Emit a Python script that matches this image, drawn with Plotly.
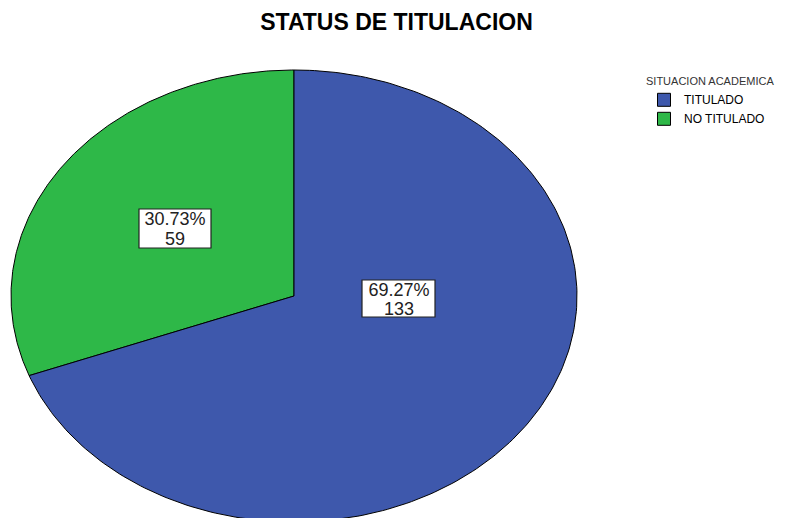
import numpy as np
import plotly.graph_objects as go

# ---- data ----
categories = ["TITULADO", "NO TITULADO"]
counts = [133, 59]
colors = ["#3E58AC", "#2EB848"]
legend_title = "SITUACION ACADEMICA"
chart_title = "STATUS DE TITULACION"

# ---- layout geometry (window pixels) ----
WIN_W, WIN_H = 789, 518
OFF = 8                     # default page body margin
W, H = WIN_W - OFF, WIN_H - OFF
CX, CY = 294, 296           # ellipse centre
RX, RY = 283, 226           # ellipse radii


def dx(px):  # window px -> data x (unit ellipse)
    return (px - CX) / RX


def dy(py):  # window px -> data y (unit ellipse)
    return (CY - py) / RY


def paper_x(px):
    return (px - OFF) / W


def paper_y(py):
    return 1 - (py - OFF) / H


total = sum(counts)
pct = [c / total * 100 for c in counts]

xr = [dx(OFF), dx(WIN_W)]
yr = [dy(WIN_H), dy(OFF)]

fig = go.Figure()

# slices drawn from 12 o'clock, counter-clockwise: NO TITULADO first
order = [1, 0]
start = 0.0
for i in order:
    frac = counts[i] / total
    a = np.linspace(start, start + frac * 2 * np.pi, 240)
    xs = np.concatenate([[0], -np.sin(a), [0]])
    ys = np.concatenate([[0], np.cos(a), [0]])
    fig.add_trace(go.Scatter(
        x=xs, y=ys, fill="toself", fillcolor=colors[i], mode="lines",
        line=dict(color="black", width=1), showlegend=False, hoverinfo="skip"))
    start += frac * 2 * np.pi

# legend entries
for i, cat in enumerate(categories):
    fig.add_trace(go.Scatter(
        x=[None], y=[None], mode="markers", name=cat,
        marker=dict(symbol="square", size=13, color=colors[i],
                    line=dict(color="black", width=1))))

# slice label boxes (window px: x0, x1, y0, y1, line1 y, line2 y)
label_boxes = {
    0: (362, 435, 280, 317, 289, 308),
    1: (139, 211, 209, 248, 218.5, 238),
}
for i in range(len(categories)):
    x0, x1, y0, y1, l1, l2 = label_boxes[i]
    fig.add_shape(type="rect", xref="x", yref="y",
                  x0=dx(x0), x1=dx(x1), y0=dy(y0), y1=dy(y1),
                  fillcolor="white", line=dict(color="#222222", width=1.2),
                  layer="above")
    xc = dx((x0 + x1) / 2)
    for txt, ly in ((f"{pct[i]:.2f}%", l1), (f"{counts[i]}", l2)):
        fig.add_annotation(
            x=xc, y=dy(ly), xref="x", yref="y", showarrow=False,
            text=txt, xanchor="center", yanchor="middle",
            height=17, width=70, borderpad=0,
            font=dict(family="Liberation Sans, Arial", size=18, color="#222222"))

fig.update_layout(
    width=W, height=H, autosize=False,
    margin=dict(l=0, r=0, t=0, b=0),
    paper_bgcolor="white", plot_bgcolor="white",
    xaxis=dict(range=xr, visible=False, fixedrange=True),
    yaxis=dict(range=yr, visible=False, fixedrange=True),
    title=dict(text=f"<b>{chart_title}</b>", x=paper_x(396.5), xanchor="center",
               y=paper_y(22), yanchor="middle", yref="container",
               font=dict(family="Liberation Sans, Arial", size=23, color="black")),
    legend=dict(
        x=paper_x(644), y=paper_y(71), xanchor="left", yanchor="top",
        bgcolor="rgba(0,0,0,0)",
        title=dict(text=legend_title,
                   font=dict(family="Liberation Sans, Arial", size=11, color="#333333")),
        font=dict(family="Liberation Sans, Arial", size=12, color="black"),
        tracegroupgap=0),
    showlegend=True,
)

fig.write_html("out.html")
